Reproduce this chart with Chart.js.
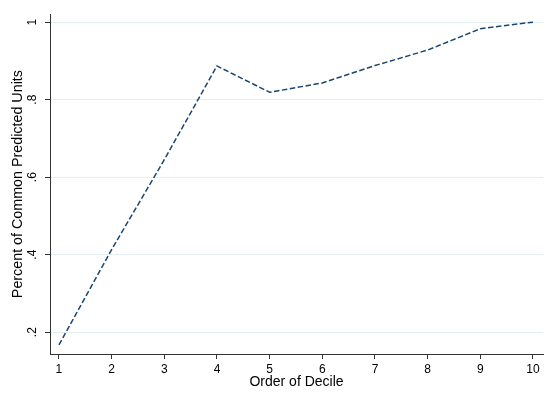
<!DOCTYPE html>
<html>
<head>
<meta charset="utf-8">
<script src="https://cdn.jsdelivr.net/npm/chart.js@4/dist/chart.umd.min.js"></script>
<style>
  html, body { margin: 0; padding: 0; background: #fff; }
</style>
</head>
<body>
<canvas id="myChart" width="552" height="403"></canvas>
<script>
// Data
const deciles = [1, 2, 3, 4, 5, 6, 7, 8, 9, 10];
const commonShare = [0.167, 0.413, 0.645, 0.887, 0.819, 0.843, 0.888, 0.928, 0.983, 1.0];
const xTicks = [1, 2, 3, 4, 5, 6, 7, 8, 9, 10];
const yTicks = [0.2, 0.4, 0.6, 0.8, 1];

const fontFamily = "'Liberation Sans', Arial, sans-serif";
const axisColor = "#333333";
const gridColor = "#e4eef0";

const data = {
  datasets: [
    {
      label: "Percent of Common Predicted Units",
      data: deciles.map((d, i) => ({ x: d, y: commonShare[i] })),
      borderColor: "#1a476f",
      borderWidth: 1.5,
      borderDash: [5.5, 2.5],
      pointRadius: 0,
      tension: 0,
      fill: false,
    },
  ],
};

const config = {
  type: "line",
  data: data,
  options: {
    responsive: false,
    animation: false,
    devicePixelRatio: 1,
    layout: { padding: { left: 0, top: 12, right: 9, bottom: 0 } },
    plugins: {
      legend: { display: false },
      tooltip: { enabled: false },
    },
    scales: {
      x: {
        type: "linear",
        min: 0.83,
        max: 10.19,
        afterBuildTicks: (s) => { s.ticks = xTicks.map((v) => ({ value: v })); },
        afterFit: (s) => { s.height = 49; },
        grid: { drawOnChartArea: false, tickLength: 5, tickColor: axisColor, tickWidth: 1 },
        border: { color: axisColor, width: 1 },
        ticks: {
          color: "#000",
          font: { family: fontFamily, size: 12 },
          padding: 3,
          maxRotation: 0,
          callback: (v) => String(v),
        },
        title: {
          display: true,
          text: "Order of Decile",
          color: "#000",
          font: { family: fontFamily, size: 14 },
          padding: { top: 0, bottom: 12 },
        },
      },
      y: {
        type: "linear",
        min: 0.1436,
        max: 1.0205,
        afterBuildTicks: (s) => { s.ticks = yTicks.map((v) => ({ value: v })); },
        afterFit: (s) => { s.width = 50; },
        grid: { color: gridColor, lineWidth: 1, tickLength: 5, tickColor: axisColor, tickWidth: 1 },
        border: { color: axisColor, width: 1 },
        ticks: {
          color: "#000",
          font: { family: fontFamily, size: 12 },
          padding: 7,
          minRotation: 90,
          maxRotation: 90,
          crossAlign: "center",
          callback: (v) => (v === 1 ? "1" : String(v).replace(/^0/, "")),
        },
        title: {
          display: true,
          text: "Percent of Common Predicted Units",
          color: "#000",
          font: { family: fontFamily, size: 14.3 },
          padding: { top: 9, bottom: 0 },
        },
      },
    },
  },
};

new Chart(document.getElementById("myChart").getContext("2d"), config);
</script>
</body>
</html>
